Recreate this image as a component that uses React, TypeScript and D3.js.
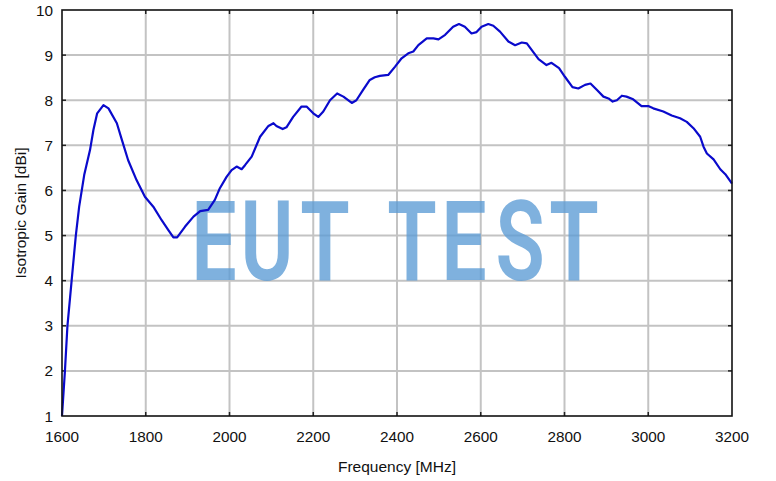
import React from "react";
import * as d3 from "d3";

const freqMHz = [
  1600, 1607, 1613, 1623, 1629, 1633, 1641, 1653, 1667, 1675, 1684, 1699, 1711, 1731, 1743, 1758, 1778, 1798,
  1818, 1838, 1854, 1866, 1875, 1894, 1914, 1930, 1949, 1965, 1977, 1993, 2005, 2017, 2029, 2037, 2053, 2073,
  2093, 2105, 2112, 2127, 2136, 2152, 2172, 2184, 2200, 2212, 2224, 2240, 2257, 2272, 2292, 2303, 2319, 2335,
  2347, 2359, 2379, 2395, 2411, 2427, 2439, 2451, 2471, 2487, 2499, 2515, 2534, 2548, 2562, 2578, 2590, 2602,
  2618, 2630, 2646, 2666, 2682, 2698, 2710, 2722, 2738, 2757, 2769, 2787, 2801, 2819, 2833, 2849, 2862, 2877,
  2893, 2905, 2915, 2925, 2937, 2948, 2964, 2984, 3000, 3012, 3036, 3056, 3076, 3092, 3108, 3124, 3132, 3140,
  3156, 3172, 3184, 3200,
];
const gainDBi = [
  1.0, 2.0, 3.0, 4.0, 4.6, 5.0, 5.64, 6.34, 6.9, 7.34, 7.71, 7.89, 7.82, 7.49, 7.12, 6.67, 6.23, 5.86,
  5.64, 5.34, 5.12, 4.96, 4.96, 5.2, 5.42, 5.54, 5.57, 5.79, 6.05, 6.3, 6.45, 6.53, 6.47, 6.56, 6.75, 7.19,
  7.43, 7.49, 7.43, 7.36, 7.4, 7.63, 7.86, 7.86, 7.71, 7.63, 7.75, 8.0, 8.15, 8.08, 7.94, 8.0, 8.23, 8.45,
  8.51, 8.54, 8.56, 8.74, 8.93, 9.04, 9.08, 9.22, 9.37, 9.37, 9.35, 9.45, 9.63, 9.69, 9.63, 9.48, 9.51, 9.63,
  9.69, 9.65, 9.52, 9.3, 9.22, 9.28, 9.26, 9.11, 8.91, 8.78, 8.83, 8.71, 8.52, 8.29, 8.26, 8.34, 8.37, 8.23,
  8.08, 8.04, 7.97, 8.0, 8.1, 8.08, 8.02, 7.87, 7.87, 7.82, 7.75, 7.66, 7.6, 7.52, 7.38, 7.19, 6.97, 6.82,
  6.69, 6.47, 6.36, 6.15,
];
const xTicks = [1600, 1800, 2000, 2200, 2400, 2600, 2800, 3000, 3200];
const yTicks = [1, 2, 3, 4, 5, 6, 7, 8, 9, 10];
const watermarkLetters = ["E", "U", "T", "T", "E", "S", "T"];
const watermarkCenters = [214, 267, 325, 412, 464, 520, 574];

export default function App() {
  const W = 776, H = 481;
  const left = 62, right = 732, top = 10, bottom = 416;
  const x = d3.scaleLinear().domain([1600, 3200]).range([left, right]);
  const y = d3.scaleLinear().domain([1, 10]).range([bottom, top]);
  const data = freqMHz.map((f, i) => [f, gainDBi[i]] as [number, number]);
  const line = d3.line<[number, number]>().x(d => x(d[0])).y(d => y(d[1])).curve(d3.curveLinear);
  const font = "Arial, 'Liberation Sans', sans-serif";

  return (
    <svg width={W} height={H} style={{ position: "absolute", left: 0, top: 0, background: "#fff" }}
      fontFamily={font}>
      <rect x={0} y={0} width={W} height={H} fill="#fff" />
      {xTicks.slice(1, -1).map(t => (
        <line key={"gx" + t} x1={x(t)} x2={x(t)} y1={top} y2={bottom} stroke="#c3c3c3" strokeWidth={2} />
      ))}
      {yTicks.slice(1, -1).map(t => (
        <line key={"gy" + t} x1={left} x2={right} y1={y(t)} y2={y(t)} stroke="#c3c3c3" strokeWidth={2} />
      ))}
      {xTicks.slice(1, -1).map(t => (
        <g key={"tx" + t}>
          <line x1={x(t)} x2={x(t)} y1={bottom} y2={bottom - 4} stroke="#222" strokeWidth={1.5} />
          <line x1={x(t)} x2={x(t)} y1={top} y2={top + 4} stroke="#222" strokeWidth={1.5} />
        </g>
      ))}
      {yTicks.slice(1, -1).map(t => (
        <g key={"ty" + t}>
          <line x1={left} x2={left + 4} y1={y(t)} y2={y(t)} stroke="#222" strokeWidth={1.5} />
          <line x1={right} x2={right - 4} y1={y(t)} y2={y(t)} stroke="#222" strokeWidth={1.5} />
        </g>
      ))}
      <g fill="#5b9bd5" fillOpacity={0.78} fontFamily="Roboto, sans-serif" fontWeight={600} fontSize={112}>
        {watermarkLetters.map((ch, i) => (
          <text key={"wm" + i} textAnchor="middle" transform={`translate(${watermarkCenters[i]},280) scale(0.72,1)`}>
            {ch}
          </text>
        ))}
      </g>
      <path d={line(data) || ""} fill="none" stroke="#0a0acc" strokeWidth={2.2} strokeLinejoin="round" />
      <rect x={left} y={top} width={right - left} height={bottom - top} fill="none" stroke="#111" strokeWidth={1.6} />
      {xTicks.map(t => (
        <text key={"lx" + t} x={x(t)} y={442} textAnchor="middle" fontSize={15.3} fill="#111">{t}</text>
      ))}
      {yTicks.map(t => (
        <text key={"ly" + t} x={53} y={y(t) + 5.5} textAnchor="end" fontSize={15.3} fill="#111">{t}</text>
      ))}
      <text x={(left + right) / 2} y={472} textAnchor="middle" fontSize={15.5} fill="#111">Frequency [MHz]</text>
      <text transform={`translate(26,${(top + bottom) / 2}) rotate(-90)`} textAnchor="middle" fontSize={15.5} fill="#111">
        Isotropic Gain [dBi]
      </text>
    </svg>
  );
}
